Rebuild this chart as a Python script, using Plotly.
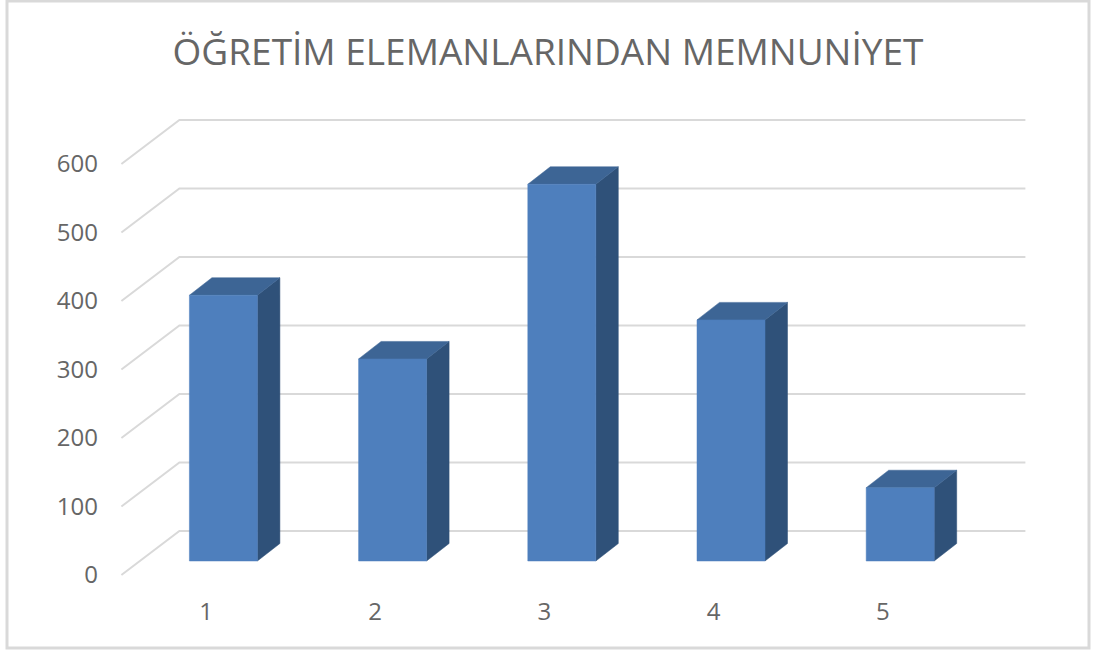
import plotly.graph_objects as go

categories = [1, 2, 3, 4, 5]
values = [388, 295, 550, 352, 107]
y_ticks = [0, 100, 200, 300, 400, 500, 600]
title_text = "ÖĞRETİM ELEMANLARINDAN MEMNUNİYET"

W, H = 1094, 653
L, R, T, B = 100, 1060, 100, 590
PX_X = 169.2     # pixels per category
PX_Y = 0.685     # pixels per value unit
X1_PX, Y0_PX = 206, 575

x_range = [1 + (L - X1_PX) / PX_X, 1 + (R - X1_PX) / PX_X]
y_range = [(Y0_PX - B) / PX_Y, (Y0_PX - T) / PX_Y]

WALL_DX, WALL_DY = 58 / PX_X, 44 / PX_Y
BAR_OFF, BAR_W = 68 / PX_X, 68 / PX_X
BAR_DX, BAR_DY = 22.5 / PX_X, 17.5 / PX_Y
BAR_Y0 = 14 / PX_Y

FRONT, TOP, SIDE = "#4e7fbd", "#3d6595", "#2f5179"
GRID = "#d9d9d9"
TEXT = "#666666"
FONT = "Open Sans"

fig = go.Figure()

for v in y_ticks:
    fig.add_trace(go.Scatter(
        x=[0.5, 0.5 + WALL_DX, 5.5 + WALL_DX],
        y=[v, v + WALL_DY, v + WALL_DY],
        mode="lines", line=dict(color=GRID, width=2),
        hoverinfo="skip", showlegend=False))


def poly(xs, ys, color):
    fig.add_trace(go.Scatter(
        x=xs + xs[:1], y=ys + ys[:1], mode="lines", fill="toself",
        fillcolor=color, line=dict(color=color, width=0.5),
        hoverinfo="skip", showlegend=False))


for c, v in zip(categories, values):
    x0 = c - 0.5 + BAR_OFF
    x1 = x0 + BAR_W
    y0 = BAR_Y0
    y1 = BAR_Y0 + v
    poly([x1, x1 + BAR_DX, x1 + BAR_DX, x1],
         [y0, y0 + BAR_DY, y1 + BAR_DY, y1], SIDE)
    poly([x0, x1, x1 + BAR_DX, x0 + BAR_DX],
         [y1, y1, y1 + BAR_DY, y1 + BAR_DY], TOP)
    poly([x0, x1, x1, x0], [y0, y0, y1, y1], FRONT)

pw, ph = R - L, B - T


def px(x):
    return (x - L) / pw


def py(y):
    return 1 - (y - T) / ph


fig.add_shape(type="rect", xref="paper", yref="paper",
              x0=px(7), x1=px(1089), y0=py(648), y1=py(1),
              line=dict(color="#d9d9d9", width=3), fillcolor="rgba(0,0,0,0)")

fig.update_layout(
    width=W, height=H, autosize=False,
    margin=dict(l=L, r=W - R, t=T, b=H - B),
    paper_bgcolor="white", plot_bgcolor="white",
    showlegend=False,
    font=dict(family=FONT, color=TEXT, size=24),
    title=dict(text=title_text, x=548 / W, xanchor="center",
               y=1 - 52 / H, yanchor="middle",
               font=dict(family=FONT, size=37, color=TEXT)),
    xaxis=dict(range=x_range, tickmode="array", tickvals=categories,
               ticktext=[str(c) for c in categories],
               showgrid=False, zeroline=False, showline=False, ticks="",
               ticklabelstandoff=5),
    yaxis=dict(range=y_range, tickmode="array", tickvals=y_ticks,
               showgrid=False, zeroline=False, showline=False, ticks="",
               ticklabelstandoff=1),
)

fig.write_html("out.html", config={"displayModeBar": False},
               post_script="document.body.style.margin='0';document.body.style.overflow='hidden';")
